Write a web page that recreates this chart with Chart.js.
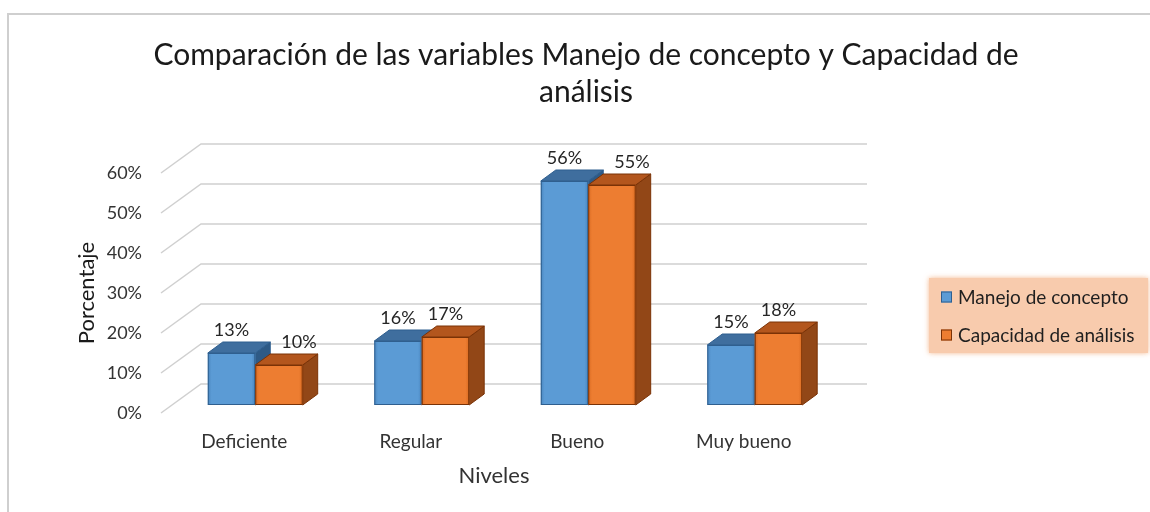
<!DOCTYPE html>
<html>
<head>
<meta charset="utf-8">
<script src="https://cdn.jsdelivr.net/npm/chart.js@4.4.1/dist/chart.umd.min.js"></script>
<style>
html, body { margin: 0; padding: 0; background: #fff; }
#wrap { width: 1150px; height: 512px; position: relative; }
</style>
</head>
<body>
<div id="wrap"><canvas id="chart"></canvas></div>
<script>
// chart data
const categories = ["Deficiente", "Regular", "Bueno", "Muy bueno"];
const manejoValues = [13, 16, 56, 15];
const capacidadValues = [10, 17, 55, 18];
const seriesNames = ["Manejo de concepto", "Capacidad de análisis"];
const yTickValues = [0, 10, 20, 30, 40, 50, 60];
const titleLines = ["Comparación de las variables Manejo de concepto y Capacidad de", "análisis"];
const yTitle = "Porcentaje";
const xTitle = "Niveles";

const FONT = "Lato, 'Open Sans', sans-serif";
const TEXT = "#333333";

// 3D look
const WALL_DX = 40, WALL_DY = -29;   // depth of the floor / back wall
const SHIFT_DX = 11, SHIFT_DY = -8;  // bars sit a bit behind the front edge
const BAR_DX = 15, BAR_DY = -11;     // depth of each bar

const faces = [
    { front: "#5B9BD5", dark: "#4A86BF", top: "#3F6E9E", side: "#2E5A86", edge: "#2F5F8F" },
    { front: "#ED7D31", dark: "#D96B22", top: "#B3561D", side: "#924717", edge: "#7A3206" },
];

function drawBox(ctx, x0, x1, yTop, yBase, c) {
    // front face, bevel-ish gradient
    const g = ctx.createLinearGradient(x0, 0, x1, 0);
    g.addColorStop(0, c.dark);
    g.addColorStop(0.08, c.front);
    g.addColorStop(0.92, c.front);
    g.addColorStop(1, c.dark);
    ctx.lineWidth = 1;
    ctx.strokeStyle = c.edge;

    // side face
    ctx.beginPath();
    ctx.moveTo(x1, yTop);
    ctx.lineTo(x1 + BAR_DX, yTop + BAR_DY);
    ctx.lineTo(x1 + BAR_DX, yBase + BAR_DY);
    ctx.lineTo(x1, yBase);
    ctx.closePath();
    ctx.fillStyle = c.side;
    ctx.fill();
    ctx.stroke();

    // top face
    ctx.beginPath();
    ctx.moveTo(x0, yTop);
    ctx.lineTo(x0 + BAR_DX, yTop + BAR_DY);
    ctx.lineTo(x1 + BAR_DX, yTop + BAR_DY);
    ctx.lineTo(x1, yTop);
    ctx.closePath();
    ctx.fillStyle = c.top;
    ctx.fill();
    ctx.stroke();

    ctx.fillStyle = g;
    ctx.fillRect(x0, yTop, x1 - x0, yBase - yTop);
    ctx.strokeRect(x0 + 0.5, yTop + 0.5, x1 - x0 - 1, yBase - yTop - 1);
}

const frame3d = {
    id: "frame3d",
    beforeDraw(chart) {
        const ctx = chart.ctx;
        ctx.save();
        ctx.fillStyle = "#fff";
        ctx.fillRect(0, 0, chart.width, chart.height);
        ctx.strokeStyle = "#CFCFCF";
        ctx.lineWidth = 2;
        ctx.beginPath();
        ctx.moveTo(8, chart.height);
        ctx.lineTo(8, 14);
        ctx.lineTo(chart.width, 14);
        ctx.stroke();
        ctx.restore();
    },
    beforeDatasetsDraw(chart) {
        const ctx = chart.ctx;
        const { left, right } = chart.chartArea;
        const y = chart.scales.y;
        ctx.save();
        ctx.strokeStyle = "#D0D0D0";
        ctx.lineWidth = 1.5;
        yTickValues.forEach(v => {
            const py = y.getPixelForValue(v);
            ctx.beginPath();
            ctx.moveTo(left, py);
            ctx.lineTo(left + WALL_DX, py + WALL_DY);
            ctx.lineTo(right + WALL_DX, py + WALL_DY);
            ctx.stroke();
        });
        ctx.restore();
    },
    afterDatasetsDraw(chart) {
        const ctx = chart.ctx;
        const metas = chart.data.datasets.map((d, i) => chart.getDatasetMeta(i));
        ctx.save();
        categories.forEach((cat, j) => {
            metas.forEach((meta, i) => {
                const bar = meta.data[j];
                const x0 = bar.x - bar.width / 2 + SHIFT_DX;
                const x1 = bar.x + bar.width / 2 + SHIFT_DX;
                drawBox(ctx, x0, x1, bar.y + SHIFT_DY, bar.base + SHIFT_DY, faces[i]);
            });
        });
        // value labels
        ctx.fillStyle = "#262626";
        ctx.font = "18px " + FONT;
        ctx.textAlign = "center";
        ctx.textBaseline = "bottom";
        categories.forEach((cat, j) => {
            metas.forEach((meta, i) => {
                const bar = meta.data[j];
                const v = chart.data.datasets[i].data[j];
                let x = bar.x + SHIFT_DX;
                // move aside when the neighbour on the left is taller
                if (i > 0 && chart.data.datasets[i - 1].data[j] > v) x += BAR_DX + 5;
                ctx.fillText(v + "%", x, bar.y + SHIFT_DY + BAR_DY - 3);
            });
        });
        ctx.restore();
    },
    afterDraw(chart) {
        const ctx = chart.ctx;
        ctx.save();
        // title
        ctx.fillStyle = "#1A1A1A";
        ctx.font = "30px " + FONT;
        ctx.textAlign = "center";
        ctx.textBaseline = "middle";
        titleLines.forEach((t, k) => ctx.fillText(t, 586, 55 + k * 37));

        // legend
        ctx.shadowColor = "rgba(237,125,49,0.55)";
        ctx.shadowBlur = 5;
        ctx.fillStyle = "#F8CBAD";
        ctx.fillRect(929, 278, 219, 75);
        ctx.shadowBlur = 0;
        ctx.shadowColor = "transparent";
        ctx.font = "19px " + FONT;
        ctx.textAlign = "left";
        seriesNames.forEach((name, i) => {
            const cy = 297 + i * 38;
            ctx.fillStyle = faces[i].front;
            ctx.fillRect(941, cy - 5.5, 11, 11);
            ctx.strokeStyle = faces[i].edge;
            ctx.lineWidth = 1;
            ctx.strokeRect(941.5, cy - 5, 10, 10);
            ctx.fillStyle = "#1F1F1F";
            ctx.fillText(name, 958, cy + 1);
        });
        ctx.restore();
    },
};

new Chart(document.getElementById("chart"), {
    type: "bar",
    data: {
        labels: categories,
        datasets: [
            { label: seriesNames[0], data: manejoValues, backgroundColor: "rgba(0,0,0,0)" },
            { label: seriesNames[1], data: capacidadValues, backgroundColor: "rgba(0,0,0,0)" },
        ],
    },
    options: {
        responsive: true,
        maintainAspectRatio: false,
        animation: false,
        events: [],
        layout: { padding: { left: 0, right: 323, top: 173, bottom: 0 } },
        datasets: { bar: { categoryPercentage: 0.57, barPercentage: 1 } },
        plugins: {
            legend: { display: false },
            title: { display: false },
            tooltip: { enabled: false },
        },
        scales: {
            x: {
                grid: { display: false, drawTicks: false },
                border: { display: false },
                ticks: { color: TEXT, font: { family: FONT, size: 19 }, padding: 17, maxRotation: 0 },
                title: { display: true, text: xTitle, color: TEXT, font: { family: FONT, size: 22 }, padding: { top: 0, bottom: 23 } },
                afterFit(scale) { scale.height = 99; },
            },
            y: {
                min: 0,
                max: 60,
                grid: { display: false, drawTicks: false },
                border: { display: false },
                ticks: { stepSize: 10, color: TEXT, font: { family: FONT, size: 18 }, padding: 19, callback: v => v + "%" },
                title: { display: true, text: yTitle, color: "#1A1A1A", font: { family: FONT, size: 22 }, padding: { top: 74, bottom: 0 } },
                afterFit(scale) { scale.width = 161; },
            },
        },
    },
    plugins: [frame3d],
});
</script>
</body>
</html>
